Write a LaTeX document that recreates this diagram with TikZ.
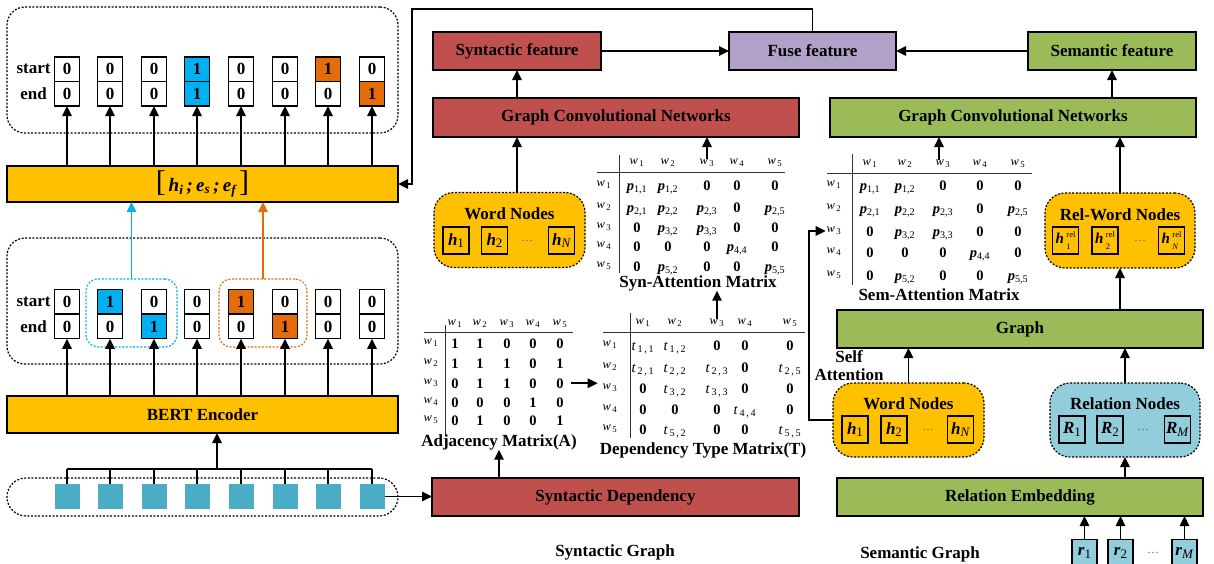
\documentclass[tikz,border=0pt]{standalone}
\usepackage{fontspec}
\setmainfont{Liberation Serif}
\usetikzlibrary{arrows.meta}

\definecolor{cyel}{HTML}{FFC000}
\definecolor{cred}{HTML}{C0504D}
\definecolor{cgrn}{HTML}{9BBB59}
\definecolor{cpur}{HTML}{B1A0C7}
\definecolor{cblu}{HTML}{00B0F0}
\definecolor{corg}{HTML}{E46C0A}
\definecolor{ctok}{HTML}{4BACC6}
\definecolor{crel}{HTML}{92CDDC}

% text helpers
\newcommand{\lbl}{\fontsize{17}{18}\selectfont\bfseries}
\newcommand{\we}[1]{\textit{w}\textsubscript{\,#1}}
\newcommand{\pe}[2]{\textbf{\textit{p}}\textsubscript{\mdseries #1,#2}}
\newcommand{\te}[2]{{\mdseries\textit{t}\textsubscript{\,#1\,,\,#2}}}
\newcommand{\vsub}[1]{{\mdseries\fontsize{13}{13}\selectfont\raisebox{-2.5pt}{#1}}}
\newcommand{\hv}[1]{\textbf{\textit{h}}\vsub{#1}}
\newcommand{\Rv}[1]{\textbf{\textit{R}}\vsub{#1}}
\newcommand{\rv}[1]{\textbf{\textit{r}}\vsub{#1}}
\newcommand{\hrel}[1]{{\fontsize{15}{15}\selectfont\textbf{\textit{h}}}\hspace{2.5pt}{\mdseries\fontsize{8.5}{8.5}\selectfont\raisebox{-6pt}{\shortstack[l]{rel\\[3.5pt]#1}}}}
\newcommand{\dotsep}{{\mdseries\fontsize{12}{12}\selectfont\textcolor{black!60}{\ldots}}}

\tikzset{
  every node/.style={inner sep=0pt, outer sep=0pt, font=\lbl},
  arr/.style={line width=1.6pt, -{Triangle[length=10pt,width=9.5pt]}},
  blk/.style={draw, line width=1.4pt, minimum height=38pt},
  redbox/.style={blk, fill=cred},
  grnbox/.style={blk, fill=cgrn},
  ylwbox/.style={blk, fill=cyel},
  purbox/.style={blk, fill=cpur},
  cell/.style={draw, line width=1.3pt, minimum width=25pt, minimum height=24.5pt},
  tok/.style={fill=ctok, minimum size=25pt},
  dotgrp/.style={draw, line width=1.2pt, dash pattern=on 2pt off 1.6pt, rounded corners=18pt},
  nodegrp/.style={dotgrp, rounded corners=20pt, minimum width=151pt, minimum height=75pt},
  vbox/.style={draw, line width=1.4pt, minimum width=26pt, minimum height=27pt},
  mhead/.style={font=\fontsize{12.5}{13}\selectfont},
  mval/.style={font=\fontsize{14.5}{15}\selectfont\bfseries, anchor=base},
  rule/.style={line width=0.9pt, black!80},
  wire/.style={line width=1.5pt},
}

\begin{document}
\begin{tikzpicture}[x=1pt,y=-1pt]
\useasboundingbox (0,0) rectangle (1214,563);

% ---------------- left column: span tagging ----------------
\node[dotgrp, minimum width=391pt, minimum height=126pt] (topgrp) at (202.5,70) {};
\node[dotgrp, minimum width=391pt, minimum height=126pt] (midgrp) at (202.5,301) {};
\node[ylwbox, minimum width=391pt, minimum height=36pt] (hbox) at (202.5,184)
  {{\fontsize{30}{30}\selectfont\mdseries[}\,{\fontsize{19}{19}\selectfont\textit{h\textsubscript{i}\,;\,e\textsubscript{s}\,;\,e\textsubscript{f}}}\,{\fontsize{30}{30}\selectfont\mdseries]}};
\node[ylwbox, minimum width=391pt, minimum height=37pt] (bert) at (202.5,414.5) {BERT Encoder};

\node (ts-lbl) at (33.5,69.25) {start};
\node (te-lbl) at (33.5,93.75) {end};
\node (ms-lbl) at (33.5,301.5) {start};
\node (me-lbl) at (33.5,326.5) {end};

% span groups
\node[dotgrp, draw=cblu, rounded corners=12pt, minimum width=91pt, minimum height=68pt] (gB) at (131.5,313) {};
\node[dotgrp, draw=corg, rounded corners=12pt, minimum width=88pt, minimum height=68pt] (gO) at (263,313) {};

% output start/end cells
\foreach \k/\s/\sc/\e/\ec in {1/0/white/0/white,2/0/white/0/white,3/0/white/0/white,4/1/cblu/1/cblu,
                             5/0/white/0/white,6/0/white/0/white,7/1/corg/0/white,8/0/white/1/corg}{
  \pgfmathsetmacro\cx{round(66.5+43.6*(\k-1))}
  \node[cell, fill=\sc] (ts\k) at (\cx,69.25) {\s};
  \node[cell, fill=\ec] (te\k) at (\cx,93.75) {\e};
  \draw[arr] (te\k.south |- hbox.north) -- (te\k.south);
}

% input start/end cells
\foreach \k/\s/\sc/\e/\ec in {1/0/white/0/white,2/1/cblu/0/white,3/0/white/1/cblu,4/0/white/0/white,
                             5/1/corg/0/white,6/0/white/1/corg,7/0/white/0/white,8/0/white/0/white}{
  \pgfmathsetmacro\cx{round(66.5+43.6*(\k-1))}
  \node[cell, fill=\sc] (ms\k) at (\cx,301.5) {\s};
  \node[cell, fill=\ec] (me\k) at (\cx,326.5) {\e};
  \draw[arr] (me\k.south |- bert.north) -- (me\k.south);
}

\draw[arr, cblu, line width=1.4pt] (gB.north) -- (gB.north |- hbox.south);
\draw[arr, corg, line width=1.4pt] (gO.north) -- (gO.north |- hbox.south);

% token embeddings
\node[dotgrp, rounded corners=19pt, minimum width=391pt, minimum height=38pt] (tokgrp) at (202.5,497) {};
\coordinate (bus) at (217,469);
\foreach \k in {1,...,8}{
  \pgfmathsetmacro\cx{round(66.5+43.6*(\k-1))}
  \node[tok] (tk\k) at (\cx,496.5) {};
  \draw[wire] (tk\k.north) -- (tk\k.north |- bus);
}
\draw[wire] (tk1.north |- bus) -- (tk8.north |- bus);
\draw[arr] (bus) -- (bus |- bert.south);

% ---------------- syntactic graph ----------------
\node[redbox, minimum width=367pt] (syndep) at (615.5,497) {Syntactic Dependency};
\node (syngraph) at (615,552) {Syntactic Graph};
\node[redbox, minimum width=366pt, minimum height=39pt] (gcnL) at (616,117.5) {Graph Convolutional Networks};
\node[redbox, minimum width=168pt] (synf) at (517,51) {Syntactic feature};
\node[purbox, minimum width=167pt] (fuse) at (812.5,51) {Fuse feature};
\node[grnbox, minimum width=168pt] (semf) at (1112,51) {Semantic feature};
\node[grnbox, minimum width=366pt, minimum height=39pt] (gcnR) at (1013,117.5) {Graph Convolutional Networks};

\draw[arr] (tk8.east) -- (tk8.east -| syndep.west);
\draw[arr] (synf.east) -- (fuse.west);
\draw[arr] (semf.west) -- (fuse.east);
\draw[arr] (synf.south |- gcnL.north) -- (synf.south);
\draw[arr] (semf.south |- gcnR.north) -- (semf.south);
\coordinate (loop) at (412,9);
\draw[arr] (fuse.north) |- (loop) |- (hbox.east);

% word nodes (syntactic branch)
\node[nodegrp, fill=cyel] (wnL) at (509.5,230) {};
\node (wnLt) at (509.5,214) {Word Nodes};
\node[vbox] (wnL1) at (456,240.5) {\hv{1}};
\node[vbox] (wnL2) at (494.5,240.5) {\hv{2}};
\node (wnLd) at (527,240.5) {\dotsep};
\node[vbox] (wnLn) at (561.5,240.5) {\hv{\textit{N}}};
\draw[arr] (wnL.north -| synf.south) -- (synf.south |- gcnL.south);

% adjacency matrix
\def\adjcols{{455,480,507,533,560}}
\foreach \j in {1,...,5}{
  \pgfmathsetmacro\cx{\adjcols[\j-1]}
  \node[mhead] (adj-h\j) at (\cx,324) {\we{\j}};
}
\foreach \i/\ry/\row in {1/343/{1,1,0,0,0},2/363/{1,1,1,0,1},3/383/{0,1,1,0,0},4/402/{0,0,0,1,0},5/420/{0,1,0,0,1}}{
  \node[mhead] (adj-r\i) at (431,\ry) {\we{\i}};
  \foreach \v [count=\j] in \row {
    \pgfmathsetmacro\cx{\adjcols[\j-1]}
    \node[mval] (adj-\i-\j) at (\cx,\ry+5) {\v};
  }
}
\draw[rule] (445,325) -- (445,435);
\draw[rule] (424,332) -- (573,332);
\node (adjcap) at (499,442) {Adjacency Matrix(A)};
\draw[arr] (adjcap.south |- syndep.north) -- (adjcap.south);

% dependency type matrix
\def\depcols{{643,675,717,745,790}}
\foreach \j in {1,...,5}{
  \pgfmathsetmacro\cx{\depcols[\j-1]}
  \node[mhead] (dep-h\j) at (\cx,323) {\we{\j}};
}
\foreach \i/\ry/\row in {1/345/{\te{1}{1},\te{1}{2},0,0,0},2/367/{\te{2}{1},\te{2}{2},\te{2}{3},0,\te{2}{5}},
                         3/388/{0,\te{3}{2},\te{3}{3},0,0},4/409/{0,0,0,\te{4}{4},0},5/429/{0,\te{5}{2},0,0,\te{5}{5}}}{
  \node[mhead] (dep-r\i) at (610,\ry) {\we{\i}};
  \foreach \v [count=\j] in \row {
    \pgfmathsetmacro\cx{\depcols[\j-1]}
    \node[mval] (dep-\i-\j) at (\cx,\ry+5) {\v};
  }
}
\draw[rule] (630,313) -- (630,438);
\draw[rule] (603,332) -- (805,332);
\node (depcap) at (703,450) {Dependency Type Matrix(T)};
\coordinate (adjout) at ([xshift=7pt]adj-3-5.east);
\coordinate (depin) at ([xshift=-5pt]dep-r3.west);
\draw[arr] (adjout) -- (adjout -| depin);

% syn-attention matrix
\def\syncols{{637,668,707,737,775}}
\foreach \j in {1,...,5}{
  \pgfmathsetmacro\cx{\syncols[\j-1]}
  \node[mhead] (syn-h\j) at (\cx,163) {\we{\j}};
}
\foreach \i/\ry/\row in {1/185/{\pe{1}{1},\pe{1}{2},0,0,0},2/207/{\pe{2}{1},\pe{2}{2},\pe{2}{3},0,\pe{2}{5}},
                         3/227/{0,\pe{3}{2},\pe{3}{3},0,0},4/246/{0,0,0,\pe{4}{4},0},5/266/{0,\pe{5}{2},0,0,\pe{5}{5}}}{
  \node[mhead] (syn-r\i) at (604,\ry) {\we{\i}};
  \foreach \v [count=\j] in \row {
    \pgfmathsetmacro\cx{\syncols[\j-1]}
    \node[mval] (syn-\i-\j) at (\cx,\ry+5) {\v};
  }
}
\draw[rule] (619,155) -- (619,273);
\draw[rule] (597,172) -- (785,172);
\node (syncap) at (698,283) {Syn-Attention Matrix};
\draw[arr] (syn-h3.north) -- (syn-h3.north |- gcnL.south);
\draw[arr] (dep-h3.north) -- (dep-h3.north |- syncap.south);

% ---------------- semantic graph ----------------
\node[grnbox, minimum width=366pt] (graph) at (1020,329) {Graph};
\node[grnbox, minimum width=366pt] (relemb) at (1020,497) {Relation Embedding};
\node (semgraph) at (920,554) {Semantic Graph};
\node[align=center] (selfatt) at (849,366) {Self\\Attention};

% sem-attention matrix
\def\semcols{{870,905,943,980,1018}}
\foreach \j in {1,...,5}{
  \pgfmathsetmacro\cx{\semcols[\j-1]}
  \node[mhead] (sem-h\j) at (\cx,164) {\we{\j}};
}
\foreach \i/\ry/\row in {1/185/{\pe{1}{1},\pe{1}{2},0,0,0},2/208/{\pe{2}{1},\pe{2}{2},\pe{2}{3},0,\pe{2}{5}},
                         3/231/{0,\pe{3}{2},\pe{3}{3},0,0},4/252/{0,0,0,\pe{4}{4},0},5/275/{0,\pe{5}{2},0,0,\pe{5}{5}}}{
  \node[mhead] (sem-r\i) at (834,\ry) {\we{\i}};
  \foreach \v [count=\j] in \row {
    \pgfmathsetmacro\cx{\semcols[\j-1]}
    \node[mval] (sem-\i-\j) at (\cx,\ry+5) {\v};
  }
}
\draw[rule] (852,154) -- (852,285);
\draw[rule] (827,173) -- (1032,173);
\node (semcap) at (939,295) {Sem-Attention Matrix};
\draw[arr] ([xshift=-4pt]sem-h3.north) -- ([xshift=-4pt]sem-h3.north |- gcnR.south);

% rel-word nodes
\node[nodegrp, fill=cyel, minimum width=150pt] (rwn) at (1120,230.5) {};
\node (rwnt) at (1120,215) {Rel-Word Nodes};
\node[vbox] (rwn1) at (1065.5,240.5) {\hrel{1}};
\node[vbox] (rwn2) at (1105,240.5) {\hrel{2}};
\node (rwnd) at (1140,240.5) {\dotsep};
\node[vbox] (rwnn) at (1171.5,240.5) {\hrel{\textit{N}}};
\draw[arr] (rwn.north) -- (rwn.north |- gcnR.south);
\draw[arr] (rwn.south |- graph.north) -- (rwn.south);

% word nodes (semantic branch)
\node[nodegrp, fill=cyel, minimum height=74pt] (wnR) at (908.5,420) {};
\node (wnRt) at (908.5,404) {Word Nodes};
\node[vbox] (wnR1) at (855,429.5) {\hv{1}};
\node[vbox] (wnR2) at (894,429.5) {\hv{2}};
\node (wnRd) at (928,429.5) {\dotsep};
\node[vbox] (wnRn) at (960.5,429.5) {\hv{\textit{N}}};
\draw[arr] (wnR.north) -- (wnR.north |- graph.south);
\draw[arr] (wnR.west) -- ++(-24,0) |- ([xshift=-1pt]sem-r3.west);

% relation nodes
\node[nodegrp, fill=crel, minimum width=150pt, minimum height=74pt] (rn) at (1125,420) {};
\node (rnt) at (1125,404) {Relation Nodes};
\node[vbox] (rn1) at (1072,429.5) {\Rv{1}};
\node[vbox] (rn2) at (1110,429.5) {\Rv{2}};
\node (rnd) at (1143,429.5) {\dotsep};
\node[vbox] (rnm) at (1177.5,429.5) {\Rv{\textit{M}}};
\draw[arr] (rn.north) -- (rn.north |- graph.south);
\draw[arr] (rn.south |- relemb.north) -- (rn.south);

% relation inputs
\node[vbox, fill=crel, minimum width=25pt] (r1) at (1084.5,553) {\rv{1}};
\node[vbox, fill=crel, minimum width=25pt] (r2) at (1120.5,553) {\rv{2}};
\node (rd) at (1153,553) {\dotsep};
\node[vbox, fill=crel, minimum width=25pt] (rm) at (1184.5,553) {\rv{\textit{M}}};
\foreach \n in {r1,r2,rm}{
  \draw[arr] (\n.north) -- (\n.north |- relemb.south);
}
\end{tikzpicture}
\end{document}
